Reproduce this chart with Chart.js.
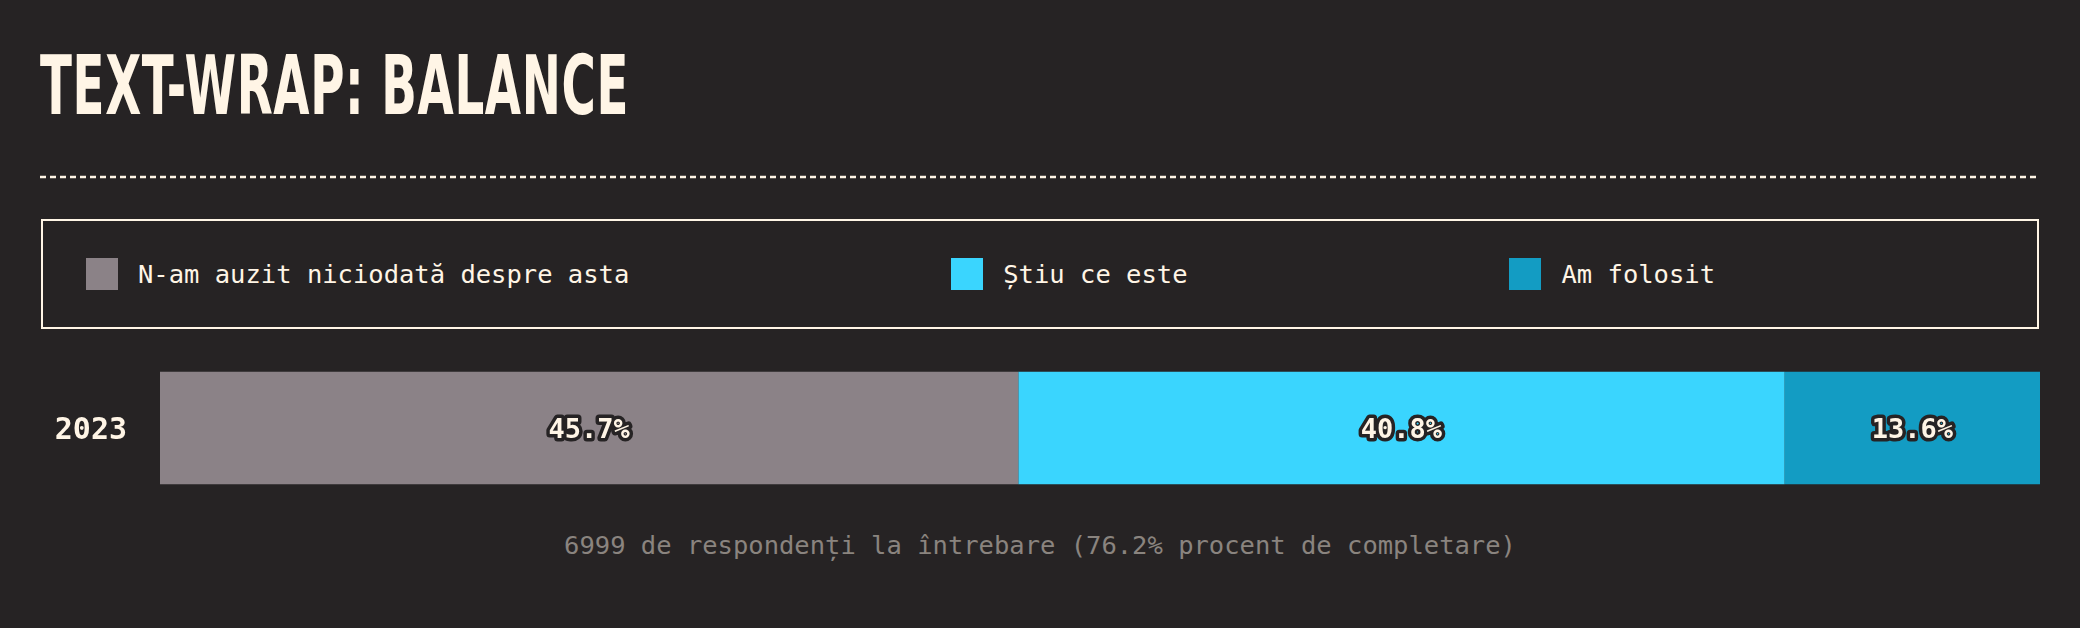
<!DOCTYPE html>
<html lang="ro">
<head>
<meta charset="utf-8">
<title>text-wrap: balance</title>
<script src="https://cdn.jsdelivr.net/npm/chart.js@4.4.1/dist/chart.umd.min.js"></script>
<style>
    html, body {
        margin: 0;
        padding: 0;
        width: 2080px;
        height: 628px;
        background: #262324;
        overflow: hidden;
    }
    #titlu {
        position: absolute;
        left: 40px;
        top: 45px;
        margin: 0;
        font-family: "Liberation Sans Narrow", "DejaVu Sans Condensed", sans-serif;
        font-weight: bold;
        font-size: 82px;
        line-height: 1;
        letter-spacing: 1px;
        color: #fff5e6;
        white-space: nowrap;
        transform-origin: 0 0;
    }
    #separator {
        position: absolute;
        left: 40px;
        top: 170px;
    }
    #legenda {
        position: absolute;
        left: 41px;
        top: 219px;
        width: 1998px;
        height: 110px;
        box-sizing: border-box;
        border: 2px solid #fff5e6;
        padding-left: 43px;
        display: flex;
        align-items: center;
        font-family: "DejaVu Sans Mono", monospace;
        font-size: 25.5px;
        color: #fff5e6;
    }
    .legenda-item {
        flex: 1 1 auto;
        display: flex;
        align-items: center;
        white-space: nowrap;
    }
    .legenda-item span.culoare {
        display: inline-block;
        width: 32px;
        height: 32px;
        margin-right: 20px;
    }
    #grafic-wrap {
        position: absolute;
        left: 40px;
        top: 350px;
        width: 2000px;
        height: 156px;
    }
    #nota {
        position: absolute;
        left: 40px;
        top: 530px;
        width: 2000px;
        text-align: center;
        font-family: "DejaVu Sans Mono", monospace;
        font-size: 25.5px;
        line-height: 30px;
        color: #8a847f;
    }
</style>
</head>
<body>
<h1 id="titlu">TEXT-WRAP: BALANCE</h1>
<canvas id="separator" width="2000" height="14"></canvas>
<div id="legenda"></div>
<div id="grafic-wrap"><canvas id="grafic"></canvas></div>
<div id="nota">6999 de respondenți la întrebare (76.2% procent de completare)</div>

<script>
// date
const ani = ['2023'];
const categorii = ['N-am auzit niciodată despre asta', 'Știu ce este', 'Am folosit'];
const procente = [
    [45.7],
    [40.8],
    [13.6],
];
const culori = ['#8b8287', '#3ad5fe', '#139cc3'];

const CREM = '#fff5e6';
const FUNDAL = '#262324';

// titlul ingustat ca un font condensed
const titlu = document.getElementById('titlu');
const latimeTitlu = 589;
titlu.style.transform = `scaleX(${latimeTitlu / titlu.getBoundingClientRect().width})`;

// linia punctata de sub titlu
const sep = document.getElementById('separator');
const sctx = sep.getContext('2d');
sctx.strokeStyle = CREM;
sctx.lineWidth = 2.5;
sctx.setLineDash([6, 4]);
sctx.beginPath();
sctx.moveTo(0, 7);
sctx.lineTo(2000, 7);
sctx.stroke();

const total = procente.reduce((s, v) => s + v[0], 0);

const legendaHtml = {
    id: 'legendaHtml',
    afterUpdate(chart) {
        const container = document.getElementById('legenda');
        container.innerHTML = '';
        chart.options.plugins.legend.labels.generateLabels(chart).forEach(item => {
            const div = document.createElement('div');
            div.className = 'legenda-item';
            const box = document.createElement('span');
            box.className = 'culoare';
            box.style.background = item.fillStyle;
            div.appendChild(box);
            div.appendChild(document.createTextNode(item.text));
            container.appendChild(div);
        });
    }
};

const eticheteValori = {
    id: 'eticheteValori',
    afterDatasetsDraw(chart) {
        const ctx = chart.ctx;
        ctx.save();
        ctx.font = 'bold 27px "DejaVu Sans Mono", monospace';
        ctx.textAlign = 'center';
        ctx.textBaseline = 'middle';
        ctx.lineJoin = 'round';
        chart.data.datasets.forEach((ds, i) => {
            const meta = chart.getDatasetMeta(i);
            meta.data.forEach((bar, j) => {
                const p = bar.getCenterPoint();
                const txt = ds.data[j].toFixed(1) + '%';
                ctx.strokeStyle = FUNDAL;
                ctx.lineWidth = 7;
                ctx.strokeText(txt, p.x, p.y + 3);
                ctx.fillStyle = CREM;
                ctx.fillText(txt, p.x, p.y + 3);
            });
        });
        ctx.restore();
    }
};

new Chart(document.getElementById('grafic'), {
    type: 'bar',
    data: {
        labels: ani,
        datasets: categorii.map((c, i) => ({
            label: c,
            data: procente[i],
            backgroundColor: culori[i],
            borderWidth: 0,
            categoryPercentage: 0.8,
            barPercentage: 0.9,
        }))
    },
    options: {
        indexAxis: 'y',
        responsive: true,
        maintainAspectRatio: false,
        animation: false,
        layout: { padding: 0 },
        plugins: {
            legend: { display: false },
            tooltip: { enabled: false },
        },
        scales: {
            x: {
                stacked: true,
                display: false,
                min: 0,
                max: total,
            },
            y: {
                stacked: true,
                border: { display: false },
                grid: { display: false, drawTicks: false },
                ticks: {
                    color: CREM,
                    padding: 33,
                    labelOffset: 3,
                    font: { family: '"DejaVu Sans Mono", monospace', size: 30, weight: 'bold' }
                },
                afterFit(scale) {
                    // latime fixa pentru axa si fara spatiu sus/jos
                    scale.width = 120;
                    scale.paddingTop = 0;
                    scale.paddingBottom = 0;
                }
            }
        }
    },
    plugins: [legendaHtml, eticheteValori]
});
</script>
</body>
</html>
